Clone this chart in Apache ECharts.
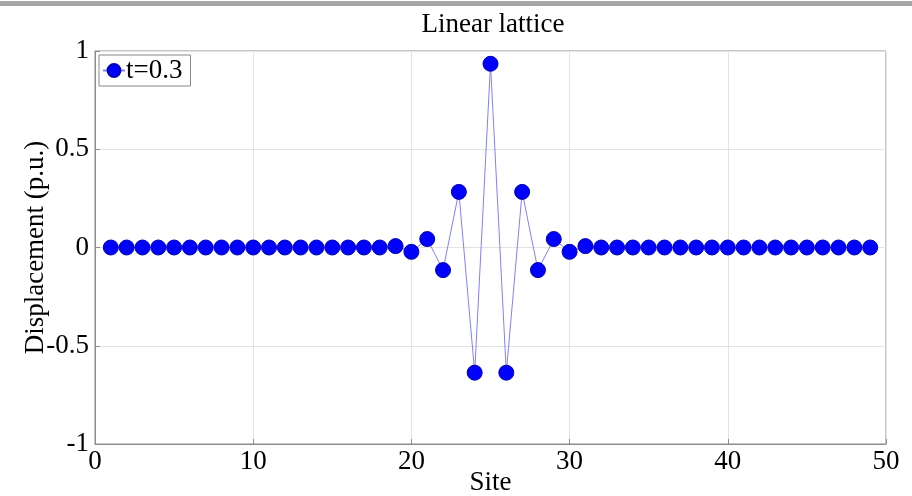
<!DOCTYPE html>
<html>
<head>
<meta charset="utf-8">
<script src="https://cdn.jsdelivr.net/npm/echarts@6/dist/echarts.min.js"></script>
<style>
  html, body { margin: 0; padding: 0; background: #fff; }
  #chart { width: 912px; height: 496px; }
</style>
</head>
<body>
<div id="chart"></div>
<script>
// Lattice sites and their displacement at t = 0.3
const sites = [1,2,3,4,5,6,7,8,9,10,11,12,13,14,15,16,17,18,19,20,21,22,23,24,25,
               26,27,28,29,30,31,32,33,34,35,36,37,38,39,40,41,42,43,44,45,46,47,48,49];
const displacement = [0,0,0,0,0,0,0,0,0,0,0,0,0,0,0,0,0,0,0.007,-0.022,0.043,-0.115,0.283,-0.637,0.935,
                      -0.637,0.283,-0.115,0.043,-0.022,0.007,0,0,0,0,0,0,0,0,0,0,0,0,0,0,0,0,0,0];
const seriesName = 't=0.3';
const xTicks = [0, 10, 20, 30, 40, 50];
const yTicks = [-1, -0.5, 0, 0.5, 1];

const serif = '"Liberation Serif", "DejaVu Serif", serif';
const fs = 27;
const chart = echarts.init(document.getElementById('chart'));

const points = sites.map((s, i) => [s, displacement[i]]);

chart.setOption({
  animation: false,
  title: {
    text: 'Linear lattice',
    left: 488, top: 6, textAlign: 'center',
    textStyle: { fontFamily: serif, fontSize: fs, fontWeight: 'normal', color: '#000' }
  },
  graphic: [{
    type: 'rect', shape: { x: 0, y: 1, width: 912, height: 5 },
    style: { fill: '#a6a6a6' }, silent: true
  }],
  legend: {
    data: [seriesName],
    left: 99, top: 55,
    orient: 'vertical',
    borderColor: '#888', borderWidth: 1,
    padding: [2, 8, 2, 3],
    itemWidth: 22, itemHeight: 16, itemGap: 0,
    textStyle: { fontFamily: serif, fontSize: fs, color: '#000', padding: [0, 0, 0, -4] }
  },
  grid: { left: 95, right: 26, top: 51, bottom: 52, containLabel: false,
          outerBoundsMode: 'none',
          show: true, borderColor: '#8c8c8c', borderWidth: 1 },
  xAxis: {
    type: 'value', min: xTicks[0], max: xTicks[xTicks.length - 1], interval: 10,
    name: 'Site', nameLocation: 'middle', nameGap: 25, nameMoveOverlap: false,
    nameTextStyle: { fontFamily: serif, fontSize: fs, color: '#000' },
    axisLine: { show: true, onZero: false, lineStyle: { color: '#8c8c8c' } },
    axisTick: { show: true, inside: true, length: 5, lineStyle: { color: '#8c8c8c' } },
    axisLabel: { fontFamily: serif, fontSize: fs, color: '#000', margin: 4 },
    splitLine: { show: true, lineStyle: { color: '#e3e3e3', width: 1 } }
  },
  yAxis: {
    type: 'value', min: yTicks[0], max: yTicks[yTicks.length - 1], interval: 0.5,
    name: 'Displacement (p.u.)', nameLocation: 'middle', nameGap: 46, nameMoveOverlap: false,
    nameTextStyle: { fontFamily: serif, fontSize: fs, color: '#000' },
    axisLine: { show: true, onZero: false, lineStyle: { color: '#8c8c8c' } },
    axisTick: { show: true, inside: true, length: 5, lineStyle: { color: '#8c8c8c' } },
    axisLabel: { fontFamily: serif, fontSize: fs, color: '#000', margin: 6,
                 formatter: v => String(v) },
    splitLine: { show: true, lineStyle: { color: '#e3e3e3', width: 1 } }
  },
  series: [{
    name: seriesName,
    type: 'line',
    data: points,
    symbol: 'circle',
    symbolSize: 15,
    showAllSymbol: true,
    lineStyle: { color: '#8080ff', width: 1 },
    itemStyle: { color: '#0000ff', borderColor: '#0000b0', borderWidth: 1 }
  }]
});
</script>
</body>
</html>
